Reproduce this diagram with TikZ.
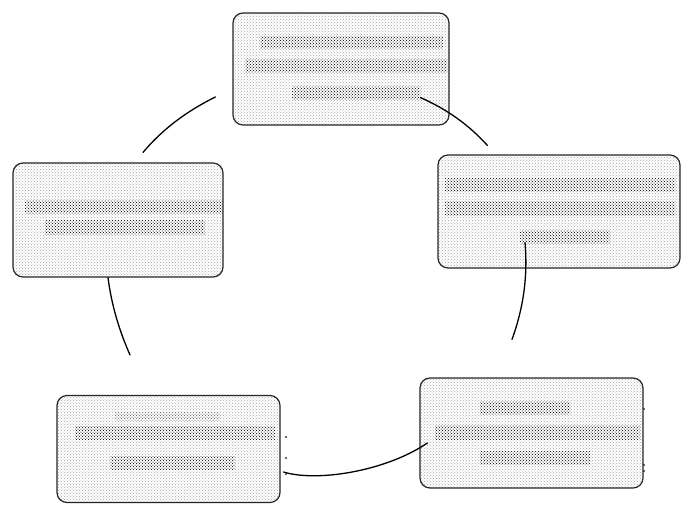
\documentclass[tikz,border=0pt]{standalone}
\usetikzlibrary{calc,patterns}
\tikzset{
  box/.style={draw=black!85, line width=1.2pt, rounded corners=10pt,
    pattern=crosshatch dots, pattern color=black!35,
    inner sep=0pt},
  textband/.style={pattern=crosshatch dots, pattern color=black},
  faintband/.style={pattern=crosshatch dots, pattern color=black!60},
  link/.style={draw=black, line width=1.3pt, line cap=round},
  speck/.style={fill=black!80}
}
\begin{document}
\begin{tikzpicture}[x=1pt,y=-1pt]
  \useasboundingbox[fill=white] (0,0) rectangle (684,504);

  % the five stages of the cycle
  \node[box, minimum width=216pt, minimum height=112pt] (boxT)  at (341,69)    {};
  \node[box, minimum width=242pt, minimum height=113pt] (boxR)  at (559,211.5) {};
  \node[box, minimum width=223pt, minimum height=110pt] (boxBR) at (531.5,433) {};
  \node[box, minimum width=223pt, minimum height=107pt] (boxBL) at (168.5,449) {};
  \node[box, minimum width=210pt, minimum height=114pt] (boxL)  at (118,220)   {};

  % lines of (illegible) print inside the boxes
  \fill[textband] (260,36) rectangle (443,48);
  \fill[textband] (245,59) rectangle (447,72);
  \fill[textband] (292,86) rectangle (420,99);

  \fill[textband] (445,178) rectangle (675,191);
  \fill[textband] (445,201) rectangle (675,215);
  \fill[textband] (520,230) rectangle (610,243);

  \fill[textband] (25,200) rectangle (222,213);
  \fill[textband] (45,220) rectangle (205,234);

  \fill[faintband] (115,412) rectangle (220,420);
  \fill[textband] (75,426) rectangle (275,439);
  \fill[textband] (110,456) rectangle (235,469);

  \fill[textband] (480,401) rectangle (570,414);
  \fill[textband] (435,425) rectangle (640,439);
  \fill[textband] (480,451) rectangle (590,464);

  % ends of the connecting arcs
  \coordinate (a1) at ($(boxT.west)+(-17,28)$);
  \coordinate (b1) at ($(boxL.north)+(25,-10)$);
  \coordinate (a2) at ($(boxT.south east)+(-29,-28)$);
  \coordinate (b2) at ($(boxR.north west)+(50,-9)$);
  \coordinate (a3) at ($(boxR.south)+(-34,-26)$);
  \coordinate (b3) at ($(boxBR.north)+(-19.5,-38)$);
  \coordinate (a4) at ($(boxBL.east)+(3,23)$);
  \coordinate (b4) at ($(boxBR.west)+(8,10)$);
  \coordinate (a5) at ($(boxL.south)+(-10,0)$);
  \coordinate (b5) at ($(boxBL.north)+(-38.5,-40)$);

  % arcs of the cycle
  \draw[link] (a1) .. controls +(-29.1,14.3) and +(19.5,-23.1) .. (b1);
  \draw[link] (a2) .. controls +(26.5,11.8) and +(-18.9,-20.8) .. (b2);
  \draw[link] (a3) .. controls +(2.9,33.7) and +(11.5,-31.7) .. (b3);
  \draw[link] (a4) .. controls +(32,10) and +(-43,29) .. (b4);
  \draw[link] (a5) .. controls +(3.5,27) and +(-11.1,-25) .. (b5);

  % small specks beside the lower boxes
  \fill[speck] (644,409) circle (1.2pt);
  \fill[speck] (644,465) circle (1.2pt);
  \fill[speck] (644,471) circle (1.2pt);
  \fill[speck] (286,437) circle (1.2pt);
  \fill[speck] (286,458) circle (1.2pt);
  \fill[speck] (286,474) circle (1.2pt);
\end{tikzpicture}
\end{document}
